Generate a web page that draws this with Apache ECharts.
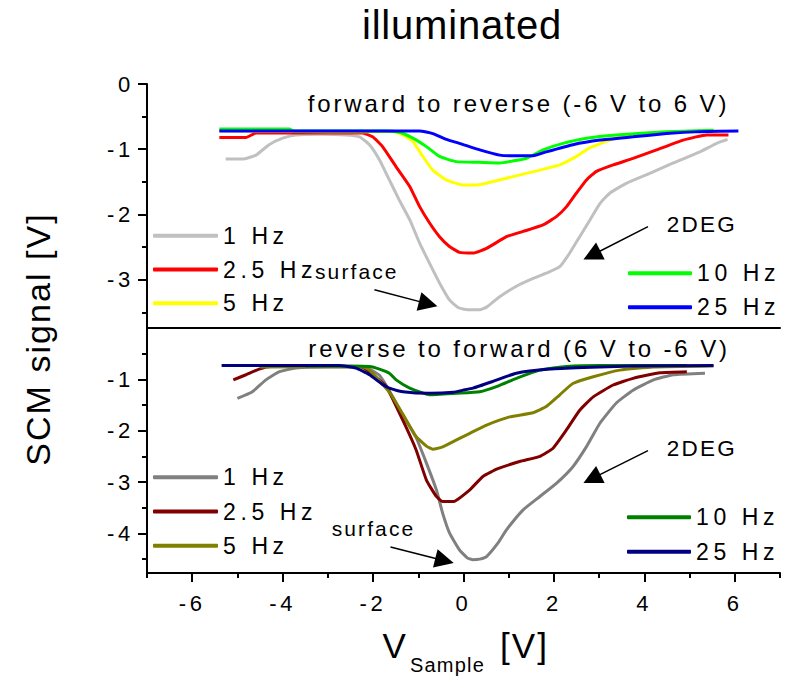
<!DOCTYPE html>
<html>
<head>
<meta charset="utf-8">
<title>illuminated</title>
<script src="https://cdn.jsdelivr.net/npm/echarts@6/dist/echarts.min.js"></script>
<style>
  html, body { margin: 0; padding: 0; background: #fff; }
  #chart { width: 793px; height: 676px; }
  /* wide tracking for the labels, tighter for the big headings */
  #chart text { letter-spacing: 0.15em; }
  #chart text[style*="40px"] { letter-spacing: 0.02em; }
  #chart text[style*="34px"], #chart text[style*="35px"] { letter-spacing: 0.06em; }
  #chart text[style*="20px"] { letter-spacing: 0.06em; }
  #chart text[style*="21px"] { letter-spacing: 0.1em; }
  #chart text[style*="22px"] { letter-spacing: 0.17em; }
  #chart text[style*="22.5px"] { letter-spacing: 0.1em; }
  #chart text[style*="23px"] { letter-spacing: 0.2em; }
  #chart text[style*="24px"] { letter-spacing: 0.12em; }
</style>
</head>
<body>
<div id="chart"></div>
<script>
// ---- sweep forward to reverse (-6 V to 6 V): [V_sample, SCM signal] ----
const fwd1Hz = [[-5.26,-1.15],[-4.89,-1.15],[-4.59,-1.09],[-4.30,-0.93],[-4.00,-0.83],[-3.71,-0.78],[-3.16,-0.77],[-2.60,-0.78],[-2.30,-0.81],[-2.08,-0.93],[-1.86,-1.16],[-1.64,-1.47],[-1.42,-1.78],[-1.19,-2.08],[-0.97,-2.44],[-0.75,-2.75],[-0.53,-3.05],[-0.31,-3.31],[-0.11,-3.43],[0.09,-3.46],[0.36,-3.46],[0.51,-3.42],[0.80,-3.26],[1.17,-3.10],[1.54,-2.98],[1.83,-2.90],[2.13,-2.80],[2.35,-2.59],[2.57,-2.34],[2.80,-2.08],[3.02,-1.83],[3.24,-1.67],[3.61,-1.52],[4.12,-1.37],[4.64,-1.21],[5.23,-1.04],[5.60,-0.91],[5.84,-0.85]];
const fwd2p5Hz = [[-5.40,-0.82],[-4.81,-0.82],[-4.59,-0.75],[-3.50,-0.75],[-2.23,-0.75],[-2.01,-0.81],[-1.79,-0.96],[-1.49,-1.27],[-1.19,-1.57],[-0.97,-1.88],[-0.75,-2.13],[-0.53,-2.34],[-0.31,-2.49],[-0.09,-2.58],[0.21,-2.59],[0.51,-2.52],[0.95,-2.34],[1.32,-2.26],[1.76,-2.16],[2.06,-2.03],[2.28,-1.88],[2.50,-1.67],[2.72,-1.47],[2.94,-1.34],[3.31,-1.24],[3.75,-1.14],[4.27,-1.01],[4.86,-0.86],[5.38,-0.78],[5.86,-0.78]];
const fwd5Hz = [[-5.40,-0.72],[-3.00,-0.73],[-1.56,-0.73],[-1.34,-0.78],[-1.12,-0.88],[-0.90,-1.11],[-0.68,-1.32],[-0.38,-1.47],[-0.01,-1.55],[0.24,-1.55],[0.51,-1.52],[1.09,-1.42],[1.69,-1.32],[2.13,-1.24],[2.50,-1.11],[2.79,-0.98],[3.16,-0.88],[3.46,-0.81],[4.04,-0.76],[5.04,-0.73],[5.64,-0.72]];
const fwd10Hz = [[-5.40,-0.69],[-3.85,-0.69],[-3.76,-0.72],[-1.76,-0.72],[-1.42,-0.74],[-1.12,-0.83],[-0.82,-0.96],[-0.53,-1.11],[-0.16,-1.19],[0.34,-1.20],[0.80,-1.21],[1.09,-1.18],[1.39,-1.14],[1.76,-1.01],[2.20,-0.91],[2.72,-0.83],[3.38,-0.78],[4.49,-0.73],[5.53,-0.71]];
const fwd25Hz = [[-5.40,-0.72],[-0.97,-0.72],[-0.68,-0.76],[-0.38,-0.85],[-0.09,-0.91],[0.36,-1.01],[0.80,-1.09],[1.14,-1.10],[1.54,-1.10],[1.83,-1.04],[2.42,-0.93],[3.02,-0.86],[3.75,-0.81],[4.49,-0.76],[5.23,-0.73],[6.08,-0.72]];

// ---- sweep reverse to forward (6 V to -6 V) ----
const rev1Hz = [[-5.00,-1.37],[-4.67,-1.24],[-4.37,-1.01],[-4.07,-0.85],[-3.71,-0.78],[-3.00,-0.76],[-2.36,-0.76],[-2.08,-0.80],[-1.86,-0.92],[-1.64,-1.22],[-1.34,-1.70],[-1.05,-2.13],[-0.82,-2.63],[-0.60,-3.15],[-0.46,-3.61],[-0.31,-3.99],[-0.09,-4.32],[0.09,-4.48],[0.21,-4.51],[0.36,-4.50],[0.51,-4.45],[0.76,-4.19],[0.95,-3.93],[1.32,-3.54],[1.69,-3.28],[2.06,-3.02],[2.42,-2.70],[2.72,-2.31],[3.02,-1.85],[3.38,-1.46],[3.75,-1.21],[4.20,-1.01],[4.64,-0.91],[5.34,-0.88]];
const rev2p5Hz = [[-5.09,-1.01],[-4.81,-0.91],[-4.52,-0.80],[-4.26,-0.75],[-2.26,-0.75],[-2.08,-0.86],[-1.71,-1.14],[-1.34,-1.80],[-1.05,-2.37],[-0.82,-2.96],[-0.60,-3.28],[-0.46,-3.38],[-0.23,-3.38],[0.14,-3.15],[0.43,-2.89],[0.76,-2.74],[1.24,-2.60],[1.69,-2.50],[1.98,-2.34],[2.28,-1.98],[2.57,-1.60],[2.87,-1.34],[3.31,-1.11],[3.75,-0.98],[4.35,-0.87],[4.94,-0.85]];
const rev5Hz = [[-4.50,-0.76],[-2.26,-0.75],[-2.08,-0.82],[-1.64,-1.25],[-1.34,-1.68],[-1.05,-2.11],[-0.82,-2.30],[-0.68,-2.36],[-0.51,-2.33],[-0.38,-2.28],[0.14,-2.05],[0.51,-1.89],[1.02,-1.73],[1.54,-1.65],[1.83,-1.53],[2.13,-1.30],[2.42,-1.08],[2.87,-0.95],[3.46,-0.82],[4.20,-0.76],[5.53,-0.74]];
const rev10Hz = [[-3.50,-0.74],[-2.50,-0.74],[-2.08,-0.75],[-1.86,-0.80],[-1.64,-0.88],[-1.49,-1.01],[-1.19,-1.17],[-0.75,-1.30],[-0.16,-1.27],[0.36,-1.24],[0.76,-1.13],[1.17,-0.98],[1.69,-0.82],[2.28,-0.75],[3.02,-0.73],[4.94,-0.73]];
const rev25Hz = [[-5.35,-0.73],[-2.75,-0.73],[-2.38,-0.78],[-2.08,-0.91],[-1.79,-1.10],[-1.64,-1.17],[-1.34,-1.24],[-0.75,-1.27],[-0.23,-1.25],[-0.01,-1.21],[0.21,-1.17],[0.65,-1.04],[1.17,-0.88],[1.91,-0.80],[2.65,-0.77],[3.75,-0.74],[5.53,-0.73]];

// ---- ticks ----
const xMajorTicks = [-6, -4, -2, 0, 2, 4, 6];
const xMinorTicks = [-7, -5, -3, -1, 1, 3, 5, 7];
const topYTicks = [-3, -2, -1, 0];
const topYMinor = [-3.5, -2.5, -1.5, -0.5];
const botYTicks = [-4, -3, -2, -1];
const botYMinor = [-4.5, -3.5, -2.5, -1.5, -0.5];

// ---- annotation arrows [from, to] in data units ----
const topSurfaceArrow = [[-1.97, -3.155], [-0.78, -3.37]];
const top2degArrow = [[4.08, -2.185], [2.84, -2.625]];
const botSurfaceArrow = [[-1.615, -4.265], [-0.42, -4.53]];
const bot2degArrow = [[4.08, -2.387], [2.84, -2.934]];

const FONT = "'Liberation Sans', Arial, sans-serif";
const chart = echarts.init(document.getElementById('chart'), null, { renderer: 'svg' });

function line(name, data, color, xi, yi, extra) {
  return Object.assign({
    name, type: 'line', data, xAxisIndex: xi, yAxisIndex: yi,
    showSymbol: false, symbol: 'none', animation: false,
    smooth: 0.15,
    lineStyle: { color, width: 3 }, itemStyle: { color },
    emphasis: { disabled: true }
  }, extra || {});
}

function arrows(list) {
  return {
    silent: true, animation: false,
    symbol: ['none', 'triangle'], symbolSize: 19,
    lineStyle: { color: '#000', width: 1.5, type: 'solid' },
    label: { show: false },
    emphasis: { disabled: true },
    data: list.map(a => [{ coord: a[0] }, { coord: a[1] }])
  };
}

const axisBlack = { color: '#000', width: 2 };
const noSplit = { show: false };

function valueX(grid, extra) {
  return Object.assign({ gridIndex: grid, type: 'value', min: -7, max: 7, splitLine: noSplit }, extra);
}
function valueY(grid, min, extra) {
  return Object.assign({ gridIndex: grid, type: 'value', min, max: 0, position: 'left', splitLine: noSplit }, extra);
}

function legend(names, left, top, gap, width) {
  return {
    data: names, left, top, orient: 'vertical', padding: 0, itemGap: gap,
    itemWidth: width, itemHeight: 4, icon: 'roundRect', selectedMode: false,
    formatter: n => n.split(',')[0],
    textStyle: { fontSize: 23, color: '#000', fontFamily: FONT }
  };
}

function label(text, x, y, size, extra) {
  return Object.assign({
    type: 'text', x, y, silent: true,
    style: { text, fontSize: size, fontFamily: FONT, fill: '#000',
             align: 'left', verticalAlign: 'middle', textAlign: 'left', textVerticalAlign: 'middle' }
  }, extra || {});
}

const tickLabel = { fontSize: 22, color: '#000', fontFamily: FONT };

const option = {
  animation: false,
  textStyle: { fontFamily: FONT },
  title: {
    text: 'illuminated', left: 362, top: 5, padding: 0,
    textStyle: { fontSize: 40, fontWeight: 'normal', color: '#000', fontFamily: FONT }
  },
  grid: [
    { left: 147, top: 84, width: 633, height: 244 },
    { left: 147, top: 328, width: 633, height: 245 }
  ],
  xAxis: [
    valueX(0, { show: false, axisLine: { onZero: false } }),
    valueX(1, {
      position: 'bottom',
      axisLine: { onZero: false, lineStyle: axisBlack },
      axisTick: { customValues: xMajorTicks, length: 9, lineStyle: axisBlack },
      axisLabel: Object.assign({ customValues: xMajorTicks, margin: 19 }, tickLabel)
    }),
    valueX(1, {
      position: 'bottom',
      axisLine: { show: false, onZero: false },
      axisTick: { customValues: xMinorTicks, length: 5, lineStyle: axisBlack },
      axisLabel: { show: false }
    }),
    valueX(1, {
      position: 'top',
      axisLine: { onZero: false, lineStyle: axisBlack },
      axisTick: { show: false },
      axisLabel: { show: false }
    })
  ],
  yAxis: [
    valueY(0, -3.74, {
      axisLine: { show: true, onZero: false, lineStyle: axisBlack },
      axisTick: { show: true, customValues: topYTicks, length: 9, lineStyle: axisBlack },
      axisLabel: Object.assign({ customValues: topYTicks, margin: 13 }, tickLabel)
    }),
    valueY(0, -3.74, {
      axisLine: { show: false, onZero: false },
      axisTick: { show: true, customValues: topYMinor, length: 5, lineStyle: axisBlack },
      axisLabel: { show: false }
    }),
    valueY(1, -4.77, {
      axisLine: { show: true, onZero: false, lineStyle: axisBlack },
      axisTick: { show: true, customValues: botYTicks, length: 9, lineStyle: axisBlack },
      axisLabel: Object.assign({ customValues: botYTicks, margin: 13 }, tickLabel)
    }),
    valueY(1, -4.77, {
      axisLine: { show: false, onZero: false },
      axisTick: { show: true, customValues: botYMinor, length: 5, lineStyle: axisBlack },
      axisLabel: { show: false }
    })
  ],
  legend: [
    legend(['1 Hz, forward', '2.5 Hz, forward', '5 Hz, forward'], 153, 224.2, 10.8, 65),
    legend(['10 Hz, forward', '25 Hz, forward'], 628, 261.8, 11, 64),
    legend(['1 Hz, reverse', '2.5 Hz, reverse', '5 Hz, reverse'], 153, 465.8, 11.2, 65),
    legend(['10 Hz, reverse', '25 Hz, reverse'], 627, 505.8, 11.4, 64)
  ],
  series: [
    line('1 Hz, forward', fwd1Hz, '#c0c0c0', 0, 0, { markLine: arrows([topSurfaceArrow, top2degArrow]) }),
    line('2.5 Hz, forward', fwd2p5Hz, '#ff0000', 0, 0),
    line('5 Hz, forward', fwd5Hz, '#ffff00', 0, 0),
    line('10 Hz, forward', fwd10Hz, '#00ff00', 0, 0),
    line('25 Hz, forward', fwd25Hz, '#0000ff', 0, 0),
    line('1 Hz, reverse', rev1Hz, '#808080', 1, 2, { markLine: arrows([botSurfaceArrow, bot2degArrow]) }),
    line('2.5 Hz, reverse', rev2p5Hz, '#800000', 1, 2),
    line('5 Hz, reverse', rev5Hz, '#808000', 1, 2),
    line('10 Hz, reverse', rev10Hz, '#008000', 1, 2),
    line('25 Hz, reverse', rev25Hz, '#000080', 1, 2)
  ],
  graphic: [
    label('forward to reverse (-6 V to 6 V)', 307.7, 103.7, 24),
    label('reverse to forward (6 V to -6 V)', 308.3, 348.7, 24),
    label('surface', 315, 271.7, 21),
    label('2DEG', 666.7, 224.3, 22.5),
    label('surface', 331.7, 528.4, 21),
    label('2DEG', 666.7, 448.7, 22.5),
    {
      type: 'text', x: 38, y: 339, rotation: Math.PI / 2, silent: true,
      style: { text: 'SCM signal [V]', fontSize: 34, fontFamily: FONT, fill: '#000',
               align: 'center', verticalAlign: 'middle', textAlign: 'center', textVerticalAlign: 'middle' }
    },
    label('V', 382.5, 645, 35),
    label('Sample', 410, 664.8, 20),
    label('[V]', 500, 645, 35)
  ]
};

chart.setOption(option);
</script>
</body>
</html>
